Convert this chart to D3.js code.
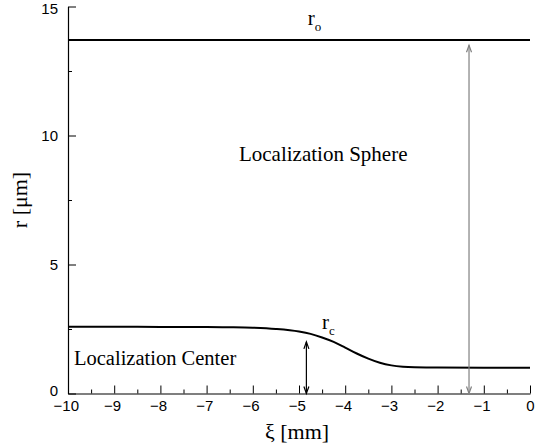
<!DOCTYPE html>
<html>
<head>
<meta charset="utf-8">
<script src="https://cdn.jsdelivr.net/npm/d3@7"></script>
<style>
  body { margin: 0; background: #fff; }
  .tick text { font-family: "Liberation Sans", Arial, sans-serif; font-size: 15px; }
  .lbl { font-family: "Liberation Serif", "Times New Roman", serif; fill: #000; }
</style>
</head>
<body>
<svg id="chart" width="548" height="444"></svg>
<script>
// data
var xi = [-10, -9, -8, -7, -6.5, -6, -5.5, -5, -4.75, -4.5, -4.25, -4, -3.75, -3.5, -3.25, -3, -2.75, -2.5, -2, -1, 0];
var rc = [2.59, 2.59, 2.58, 2.58, 2.57, 2.55, 2.50, 2.40, 2.31, 2.17, 2.0, 1.78, 1.55, 1.35, 1.19, 1.09, 1.04, 1.02, 1.01, 1.0, 1.0];
var rOuter = 13.7;
var sphereArrowX = -1.32;
var centerArrowX = -4.84;
var xTicks = [-10, -9, -8, -7, -6, -5, -4, -3, -2, -1, 0];
var yTicks = [0, 5, 10, 15];

var svg = d3.select('#chart');
var m = {left: 68, right: 530, top: 6.5, bottom: 393.5};

var x = d3.scaleLinear().domain([-10, 0]).range([m.left, m.right]);
var y = d3.scaleLinear().domain([0, 15]).range([m.bottom, m.top]);

// minor ticks first
svg.append('g')
  .attr('transform', 'translate(0,' + m.bottom + ')')
  .call(d3.axisTop(x).tickValues(d3.range(-9.5, 0, 1)).tickSize(4).tickFormat(''))
  .call(function(g){ g.select('.domain').remove(); });
svg.append('g')
  .attr('transform', 'translate(' + m.left + ',0)')
  .call(d3.axisRight(y).tickValues([2.5, 7.5, 12.5]).tickSize(4).tickFormat(''))
  .call(function(g){ g.select('.domain').remove(); });

// major axes
var fmt = function(d){ return d < 0 ? '\u2212' + Math.abs(d) : d; };
var xa = svg.append('g')
  .attr('transform', 'translate(0,' + m.bottom + ')')
  .call(d3.axisBottom(x).tickValues(xTicks).tickSize(0).tickPadding(4).tickFormat(fmt));
xa.select('.domain').attr('stroke-width', 1.2);
xa.selectAll('.tick').append('line').attr('y2', -8).attr('stroke', '#000');
xa.selectAll('.tick text').attr('dy', '0.9em').attr('dx', function(d){ return d < 0 ? '-0.15em' : 0; });

var ya = svg.append('g')
  .attr('transform', 'translate(' + m.left + ',0)')
  .call(d3.axisLeft(y).tickValues(yTicks).tickSize(0).tickPadding(10).tickFormat(fmt));
ya.select('.domain').attr('stroke-width', 1.2);
ya.selectAll('.tick').append('line').attr('x2', 8).attr('stroke', '#000');
ya.selectAll('.tick text').attr('dy', function(d){ return d === 0 ? '0.1em' : (d === 15 ? '0.45em' : '0.32em'); });

// outer radius line
svg.append('line')
  .attr('x1', x(-10)).attr('x2', x(0))
  .attr('y1', y(rOuter)).attr('y2', y(rOuter))
  .attr('stroke', '#000').attr('stroke-width', 2);

// core radius curve
var line = d3.line()
  .x(function(d){ return x(d[0]); })
  .y(function(d){ return y(d[1]); })
  .curve(d3.curveMonotoneX);
svg.append('path')
  .datum(d3.zip(xi, rc))
  .attr('fill', 'none').attr('stroke', '#000').attr('stroke-width', 2)
  .attr('d', line);

// double headed arrows
function arrow(xv, y0, y1, color){
  var px = x(xv), a = y(y0), b = y(y1);
  var g = svg.append('g').attr('stroke', color).attr('fill', 'none').attr('stroke-width', 1.2);
  g.append('line').attr('x1', px).attr('x2', px).attr('y1', a).attr('y2', b);
  g.append('path').attr('d', 'M' + (px - 2.5) + ',' + (a - 7) + 'L' + px + ',' + a + 'L' + (px + 2.5) + ',' + (a - 7));
  g.append('path').attr('d', 'M' + (px - 2.5) + ',' + (b + 7) + 'L' + px + ',' + b + 'L' + (px + 2.5) + ',' + (b + 7));
}
arrow(sphereArrowX, 0, rOuter - 0.2, '#808080');
arrow(centerArrowX, 0, 2.0, '#000');

// labels
function sublabel(xp, yp, main, sub){
  var t = svg.append('text').attr('class', 'lbl').attr('x', xp).attr('y', yp).style('font-size', '21px');
  t.append('tspan').text(main);
  t.append('tspan').attr('dy', 6).style('font-size', '13px').text(sub);
}
sublabel(x(-4.81), y(rOuter) - 15, 'r', 'o');
sublabel(x(-4.50), 329, 'r', 'c');

svg.append('text').attr('class', 'lbl').attr('x', x(-6.3)).attr('y', 161)
  .style('font-size', '21px').text('Localization Sphere');
svg.append('text').attr('class', 'lbl').attr('x', 74).attr('y', 365)
  .style('font-size', '20.5px').text('Localization Center');

svg.append('text').attr('class', 'lbl').attr('x', 297).attr('y', 439)
  .attr('text-anchor', 'middle').style('font-size', '22px').text('\u03be [mm]');
svg.append('text').attr('class', 'lbl')
  .attr('transform', 'translate(27,' + y(7.5) + ') rotate(-90)')
  .attr('text-anchor', 'middle').style('font-size', '22px').text('r [\u03bcm]');
</script>
</body>
</html>
